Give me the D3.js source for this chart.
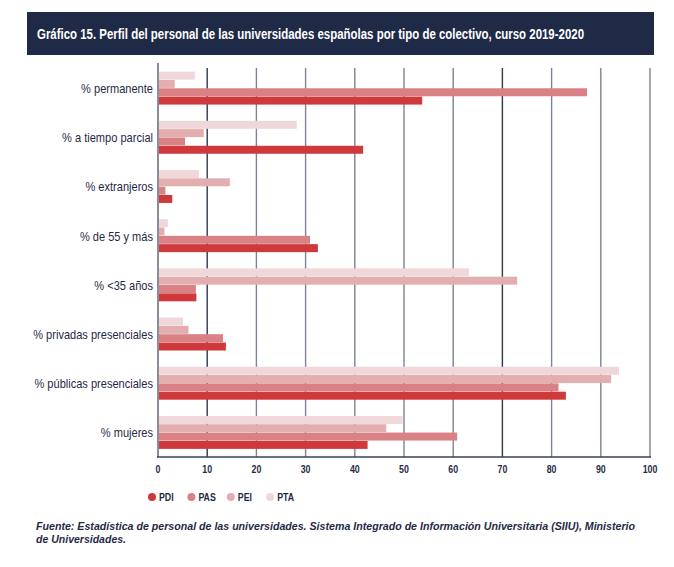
<!DOCTYPE html>
<html>
<head>
<meta charset="utf-8">
<script src="https://cdn.jsdelivr.net/npm/d3@7"></script>
<style>
  body { margin: 0; background: #fff; }
  text { font-family: "Liberation Sans", Arial, Helvetica, sans-serif; }
</style>
</head>
<body>
<div class="chart"></div>
<script>
// categories top to bottom
var categories = ["% permanente", "% a tiempo parcial", "% extranjeros", "% de 55 y más",
  "% <35 años", "% privadas presenciales", "% públicas presenciales", "% mujeres"];

// series values (%), same order as categories
var pdi = [53.7, 41.7, 2.9, 32.5, 7.8, 13.8, 82.9, 42.6];
var pas = [87.2, 5.5, 1.5, 30.9, 7.7, 13.2, 81.4, 60.8];
var pei = [3.4, 9.3, 14.6, 1.3, 73.0, 6.2, 92.1, 46.4];
var pta = [7.5, 28.2, 8.3, 2.0, 63.2, 5.1, 93.7, 49.7];

var seriesNames = ["PDI", "PAS", "PEI", "PTA"];
var xTicks = [0, 10, 20, 30, 40, 50, 60, 70, 80, 90, 100];

var colors = { PDI: "#d0393c", PAS: "#d98184", PEI: "#e2aeb0", PTA: "#efd7da" };
var navy = "#1f2a47";

var svgWidth = 674;
var svgHeight = 567;

// squeeze text horizontally to mimic the condensed face of the original
function condense(sel, k) {
  sel.each(function() {
    var w = this.getComputedTextLength();
    d3.select(this)
      .attr("textLength", w * k)
      .attr("lengthAdjust", "spacingAndGlyphs");
  });
}

var svg = d3.select(".chart")
  .append("svg")
  .attr("width", svgWidth)
  .attr("height", svgHeight);

// title banner
svg.append("rect")
  .attr("x", 27).attr("y", 12)
  .attr("width", 627).attr("height", 43)
  .attr("fill", navy);

svg.append("text")
  .attr("x", 37).attr("y", 39)
  .attr("fill", "#fff")
  .attr("font-size", 14)
  .attr("font-weight", "bold")
  .attr("textLength", 547)
  .attr("lengthAdjust", "spacingAndGlyphs")
  .text("Gráfico 15. Perfil del personal de las universidades españolas por tipo de colectivo, curso 2019-2020");

// scales
var x = d3.scaleLinear().domain([0, 100]).range([158, 650]);

var y = d3.scaleBand()
  .domain(categories)
  .range([63.5, 457])
  .paddingInner(0.33)
  .paddingOuter(0.165);

// bars stacked top to bottom: PTA, PEI, PAS, PDI
var ySub = d3.scaleBand()
  .domain(["PTA", "PEI", "PAS", "PDI"])
  .range([0, y.bandwidth()])
  .paddingInner(0.04);

// gridlines
svg.append("g")
  .selectAll("line")
  .data(xTicks.slice(1))
  .enter()
  .append("line")
  .attr("x1", d => x(d)).attr("x2", d => x(d))
  .attr("y1", 68).attr("y2", 457)
  .attr("stroke", d => (d === 10 || d === 70) ? "#2e3650" : "#7d8294")
  .attr("stroke-width", 1.4);

// bars
var table = categories.map(function(c, i) {
  return { cat: c, PDI: pdi[i], PAS: pas[i], PEI: pei[i], PTA: pta[i] };
});

var groups = svg.append("g")
  .selectAll("g")
  .data(table)
  .enter()
  .append("g")
  .attr("transform", d => `translate(0, ${y(d.cat)})`);

groups.selectAll("rect")
  .data(d => seriesNames.map(s => ({ key: s, value: d[s] })))
  .enter()
  .append("rect")
  .attr("x", x(0))
  .attr("y", d => ySub(d.key))
  .attr("width", d => x(d.value) - x(0))
  .attr("height", ySub.bandwidth())
  .attr("fill", d => colors[d.key]);

// left axis line and bottom axis line
svg.append("line")
  .attr("x1", x(0)).attr("x2", x(0))
  .attr("y1", 63).attr("y2", 457)
  .attr("stroke", "#8a8d99").attr("stroke-width", 2);

svg.append("line")
  .attr("x1", x(0) - 1).attr("x2", x(100) + 1)
  .attr("y1", 457).attr("y2", 457)
  .attr("stroke", "#3a4158").attr("stroke-width", 1.5);

// category labels
svg.append("g")
  .selectAll("text")
  .data(categories)
  .enter()
  .append("text")
  .attr("x", 153)
  .attr("y", d => y(d) + y.bandwidth() / 2 + 5)
  .attr("text-anchor", "end")
  .attr("font-size", 13)
  .attr("fill", navy)
  .text(d => d)
  .call(condense, 0.85);

// x tick labels
svg.append("g")
  .selectAll("text")
  .data(xTicks)
  .enter()
  .append("text")
  .attr("x", d => x(d))
  .attr("y", 473)
  .attr("text-anchor", "middle")
  .attr("font-size", 11)
  .attr("font-weight", "bold")
  .attr("fill", navy)
  .text(d => d)
  .call(condense, 0.8);

// legend
var legend = svg.append("g")
  .selectAll("g")
  .data(seriesNames)
  .enter()
  .append("g")
  .attr("transform", (d, i) => `translate(${152 + i * 39.4}, 497)`);

legend.append("circle")
  .attr("r", 4)
  .attr("fill", d => colors[d]);

legend.append("text")
  .attr("x", 7)
  .attr("y", 4)
  .attr("font-size", 11)
  .attr("font-weight", "bold")
  .attr("fill", navy)
  .text(d => d)
  .call(condense, 0.8);

// source note
svg.append("text")
  .attr("x", 36).attr("y", 530)
  .attr("font-size", 11.5)
  .attr("font-weight", "bold")
  .attr("font-style", "italic")
  .attr("fill", navy)
  .attr("textLength", 599)
  .attr("lengthAdjust", "spacingAndGlyphs")
  .text("Fuente: Estadística de personal de las universidades. Sistema Integrado de Información Universitaria (SIIU), Ministerio");

svg.append("text")
  .attr("x", 36).attr("y", 543)
  .attr("font-size", 11.5)
  .attr("font-weight", "bold")
  .attr("font-style", "italic")
  .attr("fill", navy)
  .attr("textLength", 90)
  .attr("lengthAdjust", "spacingAndGlyphs")
  .text("de Universidades.");
</script>
</body>
</html>
